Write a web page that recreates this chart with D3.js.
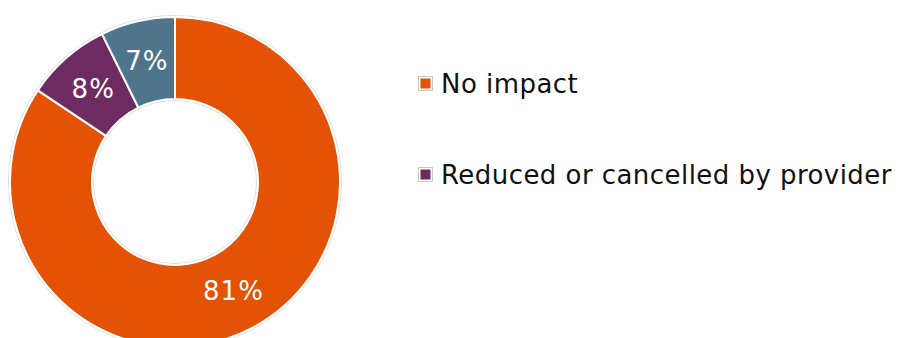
<!DOCTYPE html>
<html>
<head>
<meta charset="utf-8">
<script src="https://cdn.jsdelivr.net/npm/d3@7"></script>
<style>
  html, body { margin: 0; padding: 0; background: #fff; }
  svg { display: block; font-family: Verdana, "DejaVu Sans", sans-serif; }
</style>
</head>
<body>
<svg id="chart" width="899" height="338"></svg>
<script>
const categories = ['No impact', 'Reduced or cancelled by provider', 'Other'];
const values     = [81, 8, 7];
const colors     = ['#E35205', '#6E2B62', '#4F758B'];
const legendShown = 2;   // only the first two legend rows fit in the frame

const svg = d3.select('#chart');
const cx = 175, cy = 182, outerR = 165, innerR = 83;

const pie = d3.pie().sort(null).value(d => d);
const arc = d3.arc().innerRadius(innerR).outerRadius(outerR);
const labelArc = d3.arc().innerRadius((innerR + outerR) / 2).outerRadius((innerR + outerR) / 2);

const g = svg.append('g').attr('transform', `translate(${cx},${cy})`);

// faint grey rim round the ring
g.append('circle').attr('r', outerR + 1.5)
  .attr('fill', 'none').attr('stroke', '#dcdcdc').attr('stroke-width', 1);
g.append('circle').attr('r', innerR - 1.5)
  .attr('fill', 'none').attr('stroke', '#dcdcdc').attr('stroke-width', 1);

const slices = pie(values);

g.selectAll('path.slice')
  .data(slices)
  .join('path')
  .attr('class', 'slice')
  .attr('d', arc)
  .attr('fill', (d, i) => colors[i])
  .attr('stroke', '#fff')
  .attr('stroke-width', 2)
  .attr('stroke-linejoin', 'round');

g.selectAll('text.lbl')
  .data(slices)
  .join('text')
  .attr('class', 'lbl')
  .attr('transform', d => `translate(${labelArc.centroid(d)})`)
  .attr('text-anchor', 'middle')
  .attr('dy', '0.34em')
  .attr('fill', '#fff')
  .attr('font-size', 26)
  .attr('letter-spacing', 1)
  .text(d => d.data + '%');

// legend
const legend = svg.append('g').attr('transform', 'translate(418,0)');
const rowY = [84, 175];
const rows = legend.selectAll('g.row')
  .data(categories.slice(0, legendShown))
  .join('g')
  .attr('class', 'row')
  .attr('transform', (d, i) => `translate(0,${rowY[i]})`);

rows.append('rect')
  .attr('x', 0.5).attr('y', -7.5).attr('width', 14).attr('height', 14)
  .attr('fill', '#fff').attr('stroke', '#c8c8c8').attr('stroke-width', 1);
rows.append('rect')
  .attr('x', 2.5).attr('y', -5.5).attr('width', 10).attr('height', 10)
  .attr('fill', (d, i) => colors[i]);
rows.append('text')
  .attr('x', 23).attr('dy', '0.36em')
  .attr('font-size', 26)
  .attr('letter-spacing', 0.45)
  .attr('fill', '#111')
  .text(d => d);
</script>
</body>
</html>
